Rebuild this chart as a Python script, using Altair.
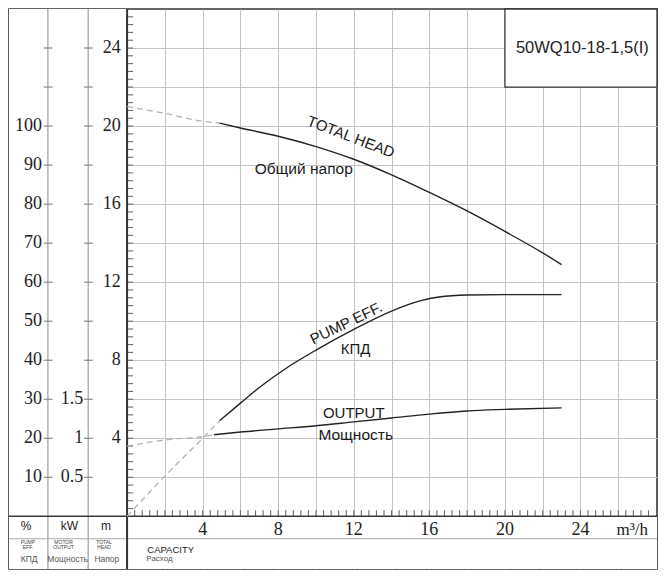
import altair as alt
import pandas as pd
import numpy as np

# ---------------- data ----------------
# TOTAL HEAD (m) vs capacity (m3/h)
head_q_dash = [0, 2, 4, 4.9]
head_h_dash = [21.0, 20.65, 20.25, 20.15]
head_q = [4.9, 6, 8, 10, 12, 14, 16, 18, 20, 22, 23]
head_h = [20.15, 19.9, 19.48, 18.95, 18.3, 17.5, 16.6, 15.65, 14.6, 13.5, 12.9]

# PUMP EFF. (%)
eff_q_dash = [0, 2, 4, 4.9]
eff_dash = [0, 10.3, 20, 24.5]
eff_q = [4.9, 6, 7, 8.5, 10, 12, 14, 15.5, 16.5, 18, 20, 23]
eff_v = [24.5, 29.0, 33.0, 38.2, 42.6, 47.9, 52.6, 55.2, 56.2, 56.7, 56.8, 56.8]

# OUTPUT (kW)
out_q_dash = [0, 2.4, 4, 4.6]
out_dash = [0.9, 0.99, 1.02, 1.045]
out_q = [4.6, 6, 8, 10, 12, 14, 16, 18, 20, 23]
out_v = [1.045, 1.08, 1.12, 1.16, 1.21, 1.26, 1.31, 1.35, 1.37, 1.39]

# axis tick labels
x_labels = [4, 8, 12, 16, 20, 24]
head_labels = [4, 8, 12, 16, 20, 24]
pct_labels = [10, 20, 30, 40, 50, 60, 70, 80, 90, 100]
kw_labels = [0.5, 1, 1.5]
pct_ticks = [10, 20, 30, 40, 50, 60, 70, 80, 90, 100, 110, 120]
kw_ticks = [0.5, 1, 1.5, 2, 2.5, 3, 3.5, 4, 4.5, 5, 5.5, 6]
grid_q = [2, 4, 6, 8, 10, 12, 14, 16, 18, 20, 22, 24, 26]
grid_h = [2, 4, 6, 8, 10, 12, 14, 16, 18, 20, 22, 24]
minor_q = [float(round(v, 1)) for v in np.arange(0.4, 28.0, 0.4)]
minor_h = [float(round(v, 1)) for v in np.arange(0.4, 26.0, 0.4)]

title_text = "50WQ10-18-1,5(I)"

# ---------------- layout in data units ----------------
W, H = 648, 560
XD = [-6.25, 28.05]
YH = [-2.7, 26.0]
YE = [v * 5 for v in YH]   # % scale (10 % per 2 m)
YK = [v / 4 for v in YH]   # kW scale (0.5 kW per 2 m)
COL1, COL2 = -4.19, -2.06
BAND = -1.15
TICK_X = 6.0 * (XD[1] - XD[0]) / W   # 6 px tick length in capacity units
TICK_Y = 6.0 * (YH[1] - YH[0]) / H   # 6 px tick length in metres


def X(f, axis=None):
    return alt.X(f, type="quantitative",
                 scale=alt.Scale(domain=XD, nice=False, zero=False), axis=axis)


def Y(f, dom=YH, axis=None):
    return alt.Y(f, type="quantitative",
                 scale=alt.Scale(domain=dom, nice=False, zero=False), axis=axis)


def rules(x0, x1, y0, y1, color, width, dom=YH):
    d = pd.DataFrame({"a": [float(v) for v in x0], "b": [float(v) for v in x1],
                      "c": [float(v) for v in y0], "e": [float(v) for v in y1]})
    return alt.Chart(d).mark_rule(color=color, strokeWidth=width).encode(
        x=X("a"), x2="b", y=Y("c", dom), y2="e")


def rect(x0, x1, y0, y1, fill, stroke=None, sw=0):
    d = pd.DataFrame({"a": [x0], "b": [x1], "c": [y0], "e": [y1]})
    kw = dict(fill=fill, strokeWidth=sw)
    if stroke:
        kw["stroke"] = stroke
    return alt.Chart(d).mark_rect(**kw).encode(x=X("a"), x2="b", y=Y("c"), y2="e")


SERIF = "Liberation Serif"
SANS = "Liberation Sans"
NOAX = dict(labels=False, title=None, domain=False)

layers = []

# grid via axes
gx = pd.DataFrame({"q": grid_q, "h": [1.0] * len(grid_q)})
layers.append(alt.Chart(gx).mark_point(opacity=0).encode(
    x=X("q", alt.Axis(values=grid_q, grid=True, gridColor="#c4c4c4", gridWidth=1,
                      ticks=False, orient="bottom", **NOAX)),
    y=Y("h")))
gy = pd.DataFrame({"q": [1.0] * len(grid_h), "h": grid_h})
layers.append(alt.Chart(gy).mark_point(opacity=0).encode(
    x=X("q"),
    y=Y("h", YH, alt.Axis(values=grid_h, grid=True, gridColor="#c4c4c4", gridWidth=1,
                          ticks=False, orient="left", **NOAX))))

# white covers so grid lines stay inside the main plot area
layers.append(rect(XD[0], 0.0, YH[0], YH[1], "white"))
layers.append(rect(0.0, XD[1], YH[0], 0.0, "white"))

# table column lines, band and axis lines
layers.append(rules([COL1, COL2], [COL1, COL2], [YH[0]] * 2, [YH[1]] * 2, "#8c8c8c", 1))
layers.append(rules([XD[0]], [XD[1]], [BAND], [BAND], "#a8a8a8", 1.2))

# ticks on % and kW columns
n = len(pct_ticks)
layers.append(rules([COL1 - 0.22] * n, [COL1 + 0.25] * n, pct_ticks, pct_ticks, "#777777", 1, YE))
n = len(kw_ticks)
layers.append(rules([COL2 - 0.22] * n, [COL2 + 0.25] * n, kw_ticks, kw_ticks, "#777777", 1, YK))

# minor ticks along the head axis (drawn on the % scale, 2 % per 0.4 m)
n = len(minor_h)
layers.append(rules([0.02] * n, [TICK_X] * n, [v * 5 for v in minor_h], [v * 5 for v in minor_h],
                    "#6a6a6a", 1.1, YE))
# minor ticks along the capacity axis
n = len(minor_q)
layers.append(rules(minor_q, minor_q, [0.02] * n, [TICK_Y] * n, "#6a6a6a", 1.1))

layers.append(rules([XD[0]], [XD[1]], [0], [0], "#3a3a3a", 1.6))
layers.append(rules([0], [0], [YH[0]], [YH[1]], "#333333", 2))

# title box
layers.append(rect(20.0, XD[1], 22.0, YH[1], "white", "#333333", 1.3))
tbox = pd.DataFrame({"x": [24.1], "y": [24.0], "t": [title_text]})
layers.append(alt.Chart(tbox).mark_text(font=SANS, fontSize=16.5, color="#222222",
                                        baseline="middle", align="center").encode(
    x=X("x"), y=Y("y"), text="t:N"))

# tick labels
xl = pd.DataFrame({"x": x_labels, "y": -0.7})
layers.append(alt.Chart(xl).mark_text(font=SERIF, fontSize=18, color="#222222",
                                      baseline="middle", align="center").encode(
    x=X("x"), y=Y("y"), text=alt.Text("x:Q")))
unit = pd.DataFrame({"x": [26.74], "y": [-0.7], "t": ["m³/h"]})
layers.append(alt.Chart(unit).mark_text(font=SERIF, fontSize=17, color="#222222",
                                        baseline="middle", align="center").encode(
    x=X("x"), y=Y("y"), text="t:N"))
hl = pd.DataFrame({"v": head_labels, "x": -0.34})
layers.append(alt.Chart(hl).mark_text(font=SERIF, fontSize=18, color="#222222",
                                      baseline="middle", align="right").encode(
    x=X("x"), y=Y("v"), text=alt.Text("v:Q")))
pl = pd.DataFrame({"v": pct_labels, "x": -4.5})
layers.append(alt.Chart(pl).mark_text(font=SERIF, fontSize=18, color="#222222",
                                      baseline="middle", align="right").encode(
    x=X("x"), y=Y("v", YE), text=alt.Text("v:Q")))
kl = pd.DataFrame({"v": kw_labels, "x": -2.32})
layers.append(alt.Chart(kl).mark_text(font=SERIF, fontSize=18, color="#222222",
                                      baseline="middle", align="right").encode(
    x=X("x"), y=Y("v", YK), text=alt.Text("v:Q")))

# bottom band headers
hdr = pd.DataFrame({"x": [-5.34, -3.05, -1.12], "y": -0.5, "t": ["%", "kW", "m"]})
layers.append(alt.Chart(hdr).mark_text(font=SANS, fontSize=12, color="#222222",
                                       baseline="middle", align="center").encode(
    x=X("x"), y=Y("y"), text="t:N"))
tiny = pd.DataFrame({
    "x": [-5.25, -5.25, -3.36, -3.36, -1.22, -1.22],
    "y": [-1.33, -1.56, -1.33, -1.56, -1.33, -1.56],
    "t": ["PUMP", "EFF.", "MOTOR", "OUTPUT", "TOTAL", "HEAD"]})
layers.append(alt.Chart(tiny).mark_text(font=SANS, fontSize=5, color="#444444",
                                        baseline="middle", align="center").encode(
    x=X("x"), y=Y("y"), text="t:N"))
ru = pd.DataFrame({"x": [-5.18, -3.15, -1.07], "y": -2.2, "t": ["КПД", "Мощность", "Напор"]})
layers.append(alt.Chart(ru).mark_text(font=SANS, fontSize=8.5, color="#555555",
                                      baseline="middle", align="center").encode(
    x=X("x"), y=Y("y"), text="t:N"))
cap = pd.DataFrame({"x": [1.07], "y": [-1.72], "t": ["CAPACITY"]})
layers.append(alt.Chart(cap).mark_text(font=SANS, fontSize=9.5, color="#222222",
                                       baseline="middle", align="left").encode(
    x=X("x"), y=Y("y"), text="t:N"))
cap2 = pd.DataFrame({"x": [1.02], "y": [-2.17], "t": ["Расход"]})
layers.append(alt.Chart(cap2).mark_text(font=SANS, fontSize=8, color="#555555",
                                        baseline="middle", align="left").encode(
    x=X("x"), y=Y("y"), text="t:N"))

# curves
DASH = dict(color="#b3b3b3", strokeWidth=1.3, strokeDash=[6, 4], interpolate="monotone")
SOLID = dict(color="#222222", strokeWidth=1.4, interpolate="monotone")

layers.append(alt.Chart(pd.DataFrame({"q": head_q_dash, "v": head_h_dash})).mark_line(**DASH).encode(
    x=X("q"), y=Y("v")))
layers.append(alt.Chart(pd.DataFrame({"q": head_q, "v": head_h})).mark_line(**SOLID).encode(
    x=X("q"), y=Y("v")))
layers.append(alt.Chart(pd.DataFrame({"q": eff_q_dash, "v": eff_dash})).mark_line(**DASH).encode(
    x=X("q"), y=Y("v", YE)))
layers.append(alt.Chart(pd.DataFrame({"q": eff_q, "v": eff_v})).mark_line(**SOLID).encode(
    x=X("q"), y=Y("v", YE)))
layers.append(alt.Chart(pd.DataFrame({"q": out_q_dash, "v": out_dash})).mark_line(**DASH).encode(
    x=X("q"), y=Y("v", YK)))
layers.append(alt.Chart(pd.DataFrame({"q": out_q, "v": out_v})).mark_line(**SOLID).encode(
    x=X("q"), y=Y("v", YK)))


# curve annotations
def note(x, y, t, angle=0, size=15):
    d = pd.DataFrame({"x": [x], "y": [y], "t": [t]})
    return alt.Chart(d).mark_text(font=SANS, fontSize=size, color="#1a1a1a", angle=angle,
                                  baseline="middle", align="center").encode(
        x=X("x"), y=Y("y"), text="t:N")


layers.append(note(11.85, 19.45, "TOTAL HEAD", angle=21))
layers.append(note(9.35, 17.8, "Общий напор", size=15.5))
layers.append(note(11.6, 9.9, "PUMP EFF.", angle=334))
layers.append(note(12.1, 8.55, "КПД"))
layers.append(note(12.0, 5.3, "OUTPUT"))
layers.append(note(12.1, 4.15, "Мощность", size=15.5))

chart = alt.layer(*layers).resolve_scale(x="independent", y="independent").properties(
    width=W, height=H, padding=1, autosize="none", background="white"
).configure_view(stroke="#333333", strokeWidth=1.6)

chart.save("out.html", embed_options={"renderer": "svg", "actions": False})
